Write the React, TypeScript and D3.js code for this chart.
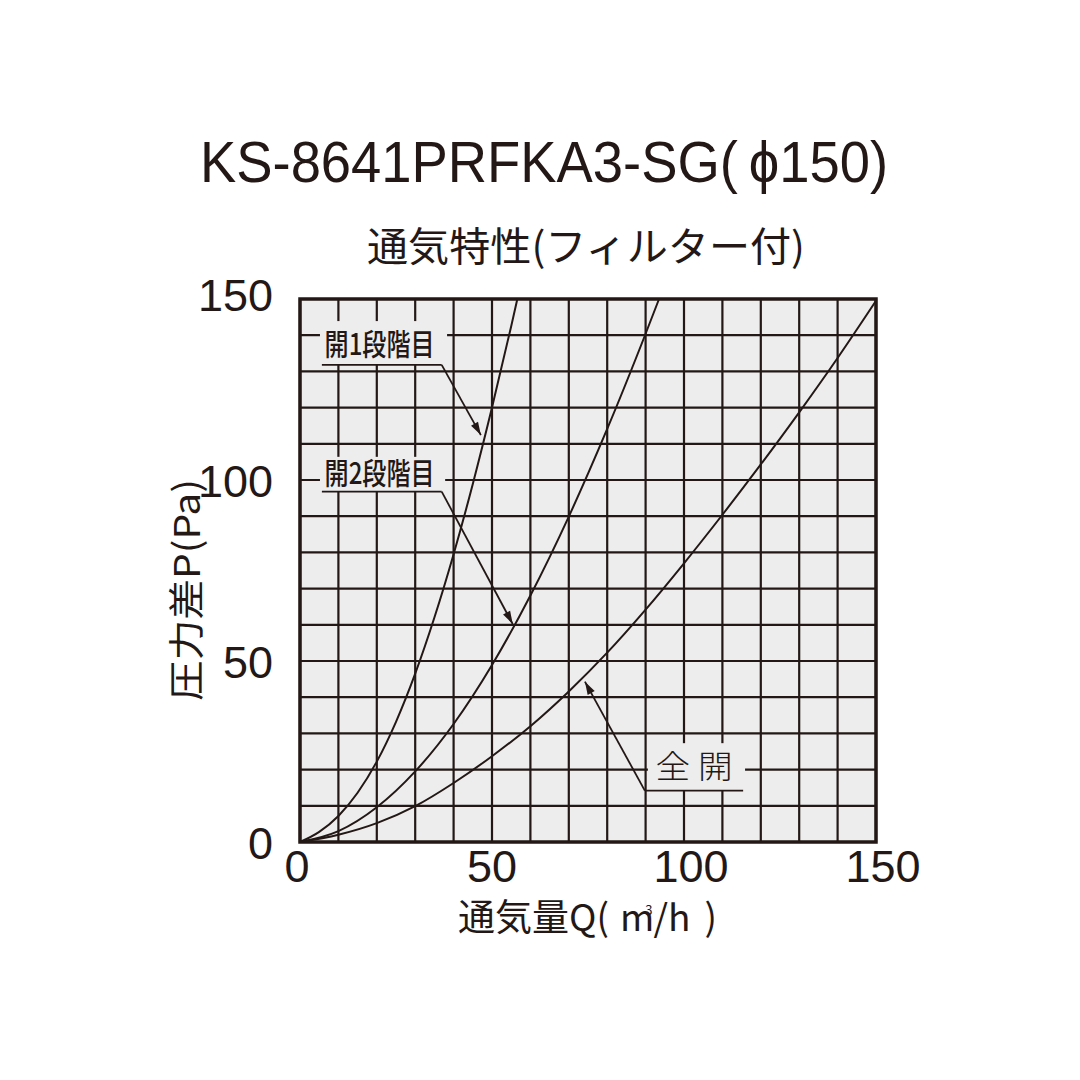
import * as d3 from "d3";

/* ------------------------------------------------------------------ */
/*  Data                                     */
/* ------------------------------------------------------------------ */

const TITLE = "KS-8641PRFKA3-SG(\u2009ϕ150)";
const SUBTITLE = "通気特性(フィルター付)";
const Y_TITLE = "圧力差P(Pa)";

const xTicks = [0, 50, 100, 150];
const yTicks = [0, 50, 100, 150];
const gridSteps = d3.range(0, 151, 10);

// 開1段階目
const stage1Q = [0, 5, 10, 15, 20, 25, 30, 35, 40, 45, 50, 55, 56.6];
const stage1P = [0, 2.8, 7.2, 13.6, 22.2, 33.2, 46.5, 62, 79.5, 98.9, 120, 142.5, 150];

// 開2段階目
const stage2Q = [0, 10, 20, 30, 40, 50, 60, 70, 80, 90, 93.5];
const stage2P = [0, 3, 9.6, 19.5, 32.6, 48.9, 68.1, 89.9, 114.1, 140.4, 150];

// 全開
const fullQ = [0, 10, 20, 30, 40, 50, 60, 70, 80, 90, 100, 110, 120, 130, 140, 150];
const fullP = [0, 2, 5.2, 9.9, 16.3, 23.7, 32, 41.6, 52.3, 64.2, 77, 90.4, 104.3, 118.7, 133.7, 149.5];

const series = [
  { name: "開1段階目", q: stage1Q, p: stage1P },
  { name: "開2段階目", q: stage2Q, p: stage2P },
  { name: "全開", q: fullQ, p: fullP },
];

// label callouts, in data units (Q, P)
const callouts = [
  {
    text: "開1段階目", textQ: 6.4, textP: 134.6, textLen: 110, size: 30, weight: 500,
    box: [5.2, 38.3, 131.9, 143.9], line: [5.7, 36.9, 131.8], from: 36.9, tip: [47.1, 112.4],
  },
  {
    text: "開2段階目", textQ: 6.4, textP: 98.9, textLen: 110, size: 30, weight: 500,
    box: [5.2, 37.8, 96.9, 106.4], line: [5.7, 36.9, 96.8], from: 36.9, tip: [55.4, 60.2],
  },
  {
    text: "全 開", textQ: 92.6, textP: 17.6, textLen: 77, size: 32, weight: 300,
    box: [90.6, 115.9, 14.3, 27.3], line: [89.8, 115.4, 14.2], from: 89.8, tip: [74.2, 44.3],
  },
];

/* ------------------------------------------------------------------ */
/*  Layout                                                            */
/* ------------------------------------------------------------------ */

const W = 1080;
const H = 1080;
const INK = "#231815";
const PLOT_BG = "#ededee";
const NUM_FONT = "'Liberation Sans', Arial, sans-serif";
const JP_FONT = "'Noto Sans CJK JP', 'Noto Sans', sans-serif";

const x = d3.scaleLinear().domain([0, 150]).range([300, 876]);
const y = d3.scaleLinear().domain([0, 150]).range([842, 299]);

const line = d3
  .line<[number, number]>()
  .x((d) => x(d[0]))
  .y((d) => y(d[1]))
  .curve(d3.curveMonotoneX);

function arrowHead(fx: number, fy: number, tx: number, ty: number) {
  const a = Math.atan2(ty - fy, tx - fx);
  const len = 13;
  const half = 4;
  const bx = tx - len * Math.cos(a);
  const by = ty - len * Math.sin(a);
  const px = -Math.sin(a) * half;
  const py = Math.cos(a) * half;
  return `M${tx},${ty}L${bx + px},${by + py}L${bx - px},${by - py}Z`;
}

export default function App() {
  const [x0, x1] = x.range();
  const [y0, y1] = y.range();

  return (
    <div style={{ position: "absolute", left: 0, top: 0, background: "#fff" }}>
      <svg width={W} height={H} viewBox={`0 0 ${W} ${H}`}>
        <rect width={W} height={H} fill="#fff" />

        {/* Titles */}
        <text x={200} y={182} fontFamily={NUM_FONT} fontSize={57} fill={INK}
          textLength={688} lengthAdjust="spacingAndGlyphs">
          {TITLE}
        </text>
        <text x={367} y={261} fontFamily={JP_FONT} fontSize={40} fill={INK}
          textLength={438} lengthAdjust="spacingAndGlyphs">
          {SUBTITLE}
        </text>

        {/* Plot background */}
        <rect x={x0} y={y1} width={x1 - x0} height={y0 - y1} fill={PLOT_BG} />

        {/* Grid */}
        {gridSteps.map((v) => (
          <g key={v}>
            <line x1={x(v)} x2={x(v)} y1={y1} y2={y0} stroke={INK} strokeWidth={2.2} />
            <line x1={x0} x2={x1} y1={y(v)} y2={y(v)} stroke={INK} strokeWidth={2.2} />
          </g>
        ))}

        {/* Label boxes hide the grid */}
        {callouts.map((c) => (
          <rect key={`box-${c.text}`} x={x(c.box[0])} y={y(c.box[3])}
            width={x(c.box[1]) - x(c.box[0])} height={y(c.box[2]) - y(c.box[3])}
            fill={PLOT_BG} />
        ))}

        {/* Curves */}
        {series.map((s) => (
          <path key={s.name}
            d={line(s.q.map((q, i) => [q, s.p[i]] as [number, number])) ?? ""}
            fill="none" stroke={INK} strokeWidth={2} />
        ))}

        {/* Callouts */}
        {callouts.map((c) => {
          const fx = x(c.from);
          const fy = y(c.line[2]);
          const tx = x(c.tip[0]);
          const ty = y(c.tip[1]);
          return (
            <g key={c.text}>
              <text x={x(c.textQ)} y={y(c.textP)} fontFamily={JP_FONT} fontSize={c.size}
                fontWeight={c.weight} fill={INK} textLength={c.textLen}
                lengthAdjust="spacingAndGlyphs">
                {c.text}
              </text>
              <line x1={x(c.line[0])} x2={x(c.line[1])} y1={fy} y2={fy}
                stroke={INK} strokeWidth={1.8} />
              <line x1={fx} y1={fy} x2={tx} y2={ty} stroke={INK} strokeWidth={1.8} />
              <path d={arrowHead(fx, fy, tx, ty)} fill={INK} />
            </g>
          );
        })}

        {/* Frame */}
        <rect x={x0} y={y1} width={x1 - x0} height={y0 - y1} fill="none"
          stroke={INK} strokeWidth={3.5} />

        {/* Y ticks */}
        {yTicks.map((t) => (
          <text key={`y${t}`} x={273} y={y(t) + (t === 150 ? 12 : 17)} textAnchor="end"
            fontFamily={NUM_FONT} fontSize={45} fill={INK}>
            {t}
          </text>
        ))}

        {/* X ticks */}
        {xTicks.map((t) => (
          <text key={`x${t}`} x={x(t) + (t >= 100 ? 7 : t === 0 ? -3 : 0)} y={882}
            textAnchor="middle" fontFamily={NUM_FONT} fontSize={45} fill={INK}>
            {t}
          </text>
        ))}

        {/* Axis titles */}
        <text x={458} y={931} fontFamily={JP_FONT} fontSize={37} fill={INK}>
          通気量Q(
          <tspan dx={11}>m</tspan>
          <tspan dx={-9} dy={-16} fontSize={13}>3</tspan>
          <tspan dx={1} dy={16}>/h</tspan>
          <tspan dx={14}>)</tspan>
        </text>
        <text transform={`translate(200,590) rotate(-90)`} textAnchor="middle"
          fontFamily={JP_FONT} fontSize={36} fill={INK}
          textLength={222} lengthAdjust="spacingAndGlyphs">
          {Y_TITLE}
        </text>
      </svg>
    </div>
  );
}
